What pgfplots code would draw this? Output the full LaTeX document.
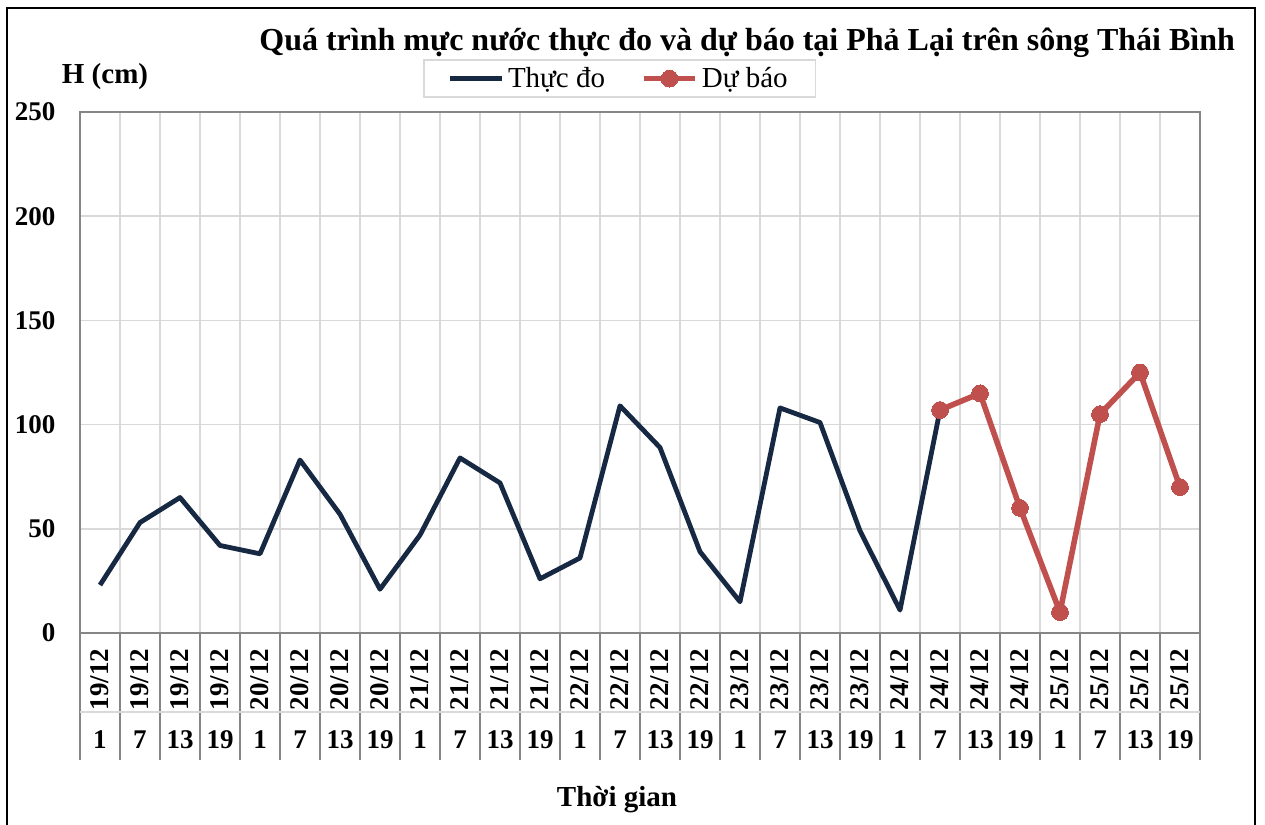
\documentclass[border=0pt]{standalone}
\usepackage{pgfplots}
\pgfplotsset{compat=1.18}
\usepackage{fontspec}
\setmainfont{Liberation Serif}
\definecolor{navy}{RGB}{22,40,66}
\definecolor{fcred}{RGB}{192,80,77}
\definecolor{gridc}{RGB}{217,217,217}
\definecolor{axc}{RGB}{134,134,134}
\newcommand{\lab}[2]{\rotatebox{90}{#1}\\[4pt]#2}
\begin{document}
\begin{tikzpicture}
\useasboundingbox (0,0) rectangle (632.5pt,412.5pt);
\draw[black,line width=1.1pt] (3.5pt,0) -- (3.5pt,408.5pt) -- (627.5pt,408.5pt) -- (627.5pt,0);
\begin{axis}[name=ax,
  at={(40pt,96pt)}, anchor=south west,
  scale only axis, width=560pt, height=260.5pt,
  xmin=-0.5, xmax=27.5, ymin=0, ymax=250,
  xtick={0,...,27},
  xticklabels={\lab{19/12}{1},\lab{19/12}{7},\lab{19/12}{13},\lab{19/12}{19},
    \lab{20/12}{1},\lab{20/12}{7},\lab{20/12}{13},\lab{20/12}{19},
    \lab{21/12}{1},\lab{21/12}{7},\lab{21/12}{13},\lab{21/12}{19},
    \lab{22/12}{1},\lab{22/12}{7},\lab{22/12}{13},\lab{22/12}{19},
    \lab{23/12}{1},\lab{23/12}{7},\lab{23/12}{13},\lab{23/12}{19},
    \lab{24/12}{1},\lab{24/12}{7},\lab{24/12}{13},\lab{24/12}{19},
    \lab{25/12}{1},\lab{25/12}{7},\lab{25/12}{13},\lab{25/12}{19}},
  xticklabel style={align=center, anchor=north, font=\bfseries\fontsize{13.5}{15}\selectfont, yshift=0pt},
  major x tick style={draw=none},
  minor xtick={-0.5,0.5,...,27.5},
  xminorgrids=true,
  minor x tick style={draw=axc, line width=0.8pt},
  minor tick length=63.5pt,
  tick align=outside,
  xtick pos=bottom, ytick pos=left,
  ytick={0,50,...,250},
  ymajorgrids=true,
  major y tick style={draw=none},
  grid style={draw=gridc, line width=0.8pt},
  minor grid style={draw=gridc, line width=0.8pt},
  yticklabel style={font=\bfseries\fontsize{13.5}{15}\selectfont, xshift=-4.5pt},
  /pgf/number format/assume math mode=true,
  axis line style={draw=axc, line width=1pt},
  legend style={at={(0.482,1)}, anchor=south, yshift=7pt, draw=gridc, line width=0.8pt,
    font=\fontsize{14.5}{16}\selectfont, legend columns=2,
    /tikz/every even column/.append style={column sep=16pt},
    inner xsep=12pt, inner ysep=1.5pt},
  legend image code/.code={\draw[mark repeat=2,mark phase=2] plot coordinates {(0cm,0cm)(0.45cm,0cm)(0.9cm,0cm)};},
  clip=false,
]
\addplot[navy, line width=2.4pt, line join=round] coordinates {
(0,23)(1,53)(2,65)(3,42)(4,38)(5,83)(6,57)(7,21)(8,47)(9,84)(10,72)(11,26)(12,36)(13,109)(14,89)(15,39)(16,15)(17,108)(18,101)(19,49)(20,11)(21,107)};
\addlegendentry{Thực đo}
\addplot[fcred, line width=2.8pt, line join=round, mark=*, mark size=4.2pt, mark options={fill=fcred, line width=0pt}] coordinates {
(21,107)(22,115)(23,60)(24,10)(25,105)(26,125)(27,70)};
\addlegendentry{Dự báo}
\end{axis}
\draw[gridc, line width=0.6pt] ([yshift=-39.5pt]ax.south west) -- ([yshift=-39.5pt]ax.south east);
\node[anchor=east, font=\bfseries\fontsize{16}{19}\selectfont] at (621pt,391pt) {Quá trình mực nước thực đo và dự báo tại Phả Lại trên sông Thái Bình};
\node[font=\bfseries\fontsize{14.5}{17}\selectfont] at (52.5pt,374pt) {H (cm)};
\node[font=\bfseries\fontsize{14.5}{17}\selectfont] at (308.5pt,12.5pt) {Thời gian};
\end{tikzpicture}
\end{document}
